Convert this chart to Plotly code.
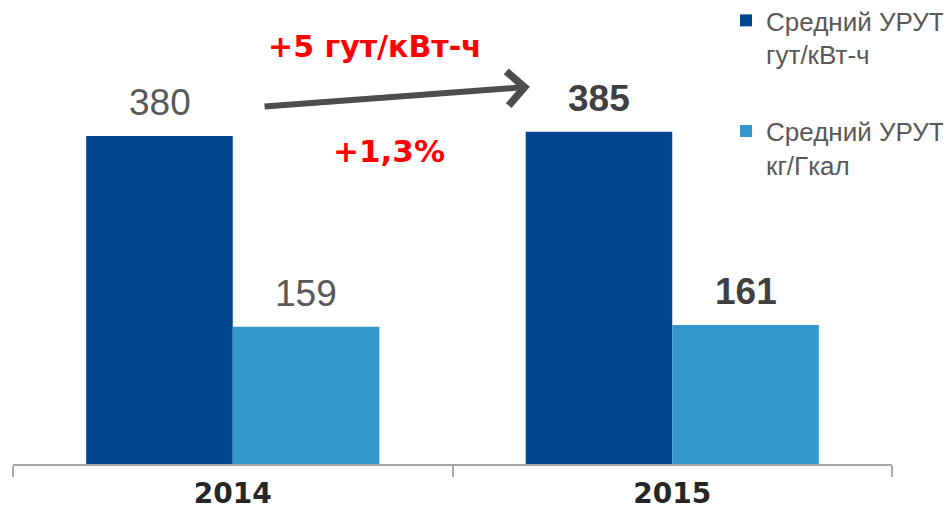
import plotly.graph_objects as go

years = ["2014", "2015"]
series_names = ["Средний УРУТ<br>гут/кВт-ч", "Средний УРУТ<br>кг/Гкал"]
urut_kwh = [380, 385]
urut_gcal = [159, 161]
colors = ["#00478F", "#3399CC"]
label_bold = [False, True]

fig = go.Figure()
for name, vals, col, grp in zip(series_names, [urut_kwh, urut_gcal], colors, ["a", "b"]):
    fig.add_trace(go.Bar(x=years, y=vals, name=name, marker_color=col,
                         marker_line_width=0, legendgroup=grp))

# value labels
offsets = [-1/6, 1/6]
for s, vals in enumerate([urut_kwh, urut_gcal]):
    for i, v in enumerate(vals):
        b = label_bold[i]
        fig.add_annotation(x=i + offsets[s], y=v, xref="x", yref="y",
                           text=f"<b>{v}</b>" if b else str(v),
                           showarrow=False, yanchor="bottom", yshift=11,
                           font=dict(family="Liberation Sans", size=37,
                                     color="#404040" if b else "#595959"))

# change arrow and labels
fig.add_annotation(x=0.676, y=437, ax=0.069, ay=414, xref="x", yref="y",
                   axref="x", ayref="y", text="", showarrow=True,
                   arrowhead=4, arrowsize=1.1, arrowwidth=6, arrowcolor="#4D4D4D")
fig.add_annotation(x=(266 - 13) / 879, y=(464 - 47) / 454, xref="paper", yref="paper",
                   text="<b>+5 гут/кВт-ч</b>", showarrow=False,
                   xanchor="left", yanchor="middle",
                   font=dict(family="DejaVu Sans", size=30, color="#FF0000"))
fig.add_annotation(x=(389 - 13) / 879, y=(464 - 151) / 454, xref="paper", yref="paper",
                   text="<b>+1,3%</b>", showarrow=False,
                   xanchor="center", yanchor="middle",
                   font=dict(family="DejaVu Sans", size=31, color="#FF0000"))

# the page adds an 8px body margin, so the figure is 8px smaller than the window
fig.update_layout(
    width=943, height=501,
    margin=dict(l=5, r=59, t=2, b=45, autoexpand=False),
    paper_bgcolor="white", plot_bgcolor="white",
    barmode="group", bargap=0.333, bargroupgap=0,
    showlegend=True,
    legend=dict(x=(726 - 13) / 879, y=(464 + 3) / 454, xanchor="left", yanchor="top",
                font=dict(family="Liberation Sans", size=26, color="#595959"),
                valign="top", traceorder="grouped", tracegroupgap=40,
                bgcolor="rgba(0,0,0,0)"),
    xaxis=dict(type="category", showline=True, linecolor="#A6A6A6", linewidth=2,
               ticks="outside", tickson="boundaries", ticklen=11, tickwidth=2,
               tickcolor="#A6A6A6", showgrid=False, automargin=False,
               ticklabelstandoff=3,
               tickfont=dict(family="DejaVu Sans", size=28, color="#262626"),
               tickprefix="<b>", ticksuffix="</b>", range=[-0.5, 1.5]),
    yaxis=dict(range=[0, 526], visible=False, showgrid=False),
)

fig.write_html("out.html")
